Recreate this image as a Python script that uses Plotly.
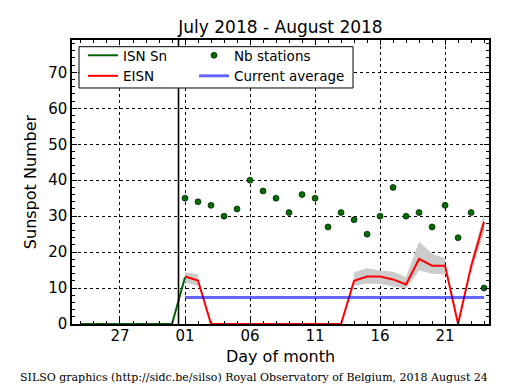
import pandas as pd
import plotly.graph_objects as go

# ---------------- data ----------------
isn_dates = pd.date_range("2018-07-24", "2018-08-01", freq="D")
isn_values = [0, 0, 0, 0, 0, 0, 0, 0, 13.0]

aug_dates = pd.date_range("2018-08-01", "2018-08-24", freq="D")
eisn_values = [13.2, 12.1, 0, 0, 0, 0, 0, 0, 0, 0, 0, 0, 0,
               12.0, 13.2, 13.2, 12.4, 11.0, 18.1, 16.2, 16.2, 0, 16.0, 28.4]
band_upper = [14.4, 13.9, None, None, None, None, None, None, None, None, None, None, None,
              14.4, 15.5, 14.9, 14.5, 13.1, 22.9, 19.6, 18.2, None, 17.5, 30.5]
band_lower = [11.6, 10.6, None, None, None, None, None, None, None, None, None, None, None,
              10.7, 11.2, 11.2, 10.4, 9.9, 14.9, 14.0, 13.8, None, 14.0, 25.5]
nb_stations = [35, 34, 33, 30, 32, 40, 37, 35, 31, 36, 35, 27, 31, 29, 25, 30,
               38, 30, 31, 27, 33, 24, 31, 10]
current_average = 7.4
month_boundary = "2018-07-31 12:00"

title_text = "July 2018 - August 2018"
footer_text = "SILSO graphics (http://sidc.be/silso) Royal Observatory of Belgium, 2018 August 24"

FONT = "DejaVu Sans"

fig = go.Figure()

# uncertainty band, one polygon per continuous run
runs, cur = [], []
for d, lo, up in zip(aug_dates, band_lower, band_upper):
    if lo is None or up is None:
        if cur:
            runs.append(cur)
        cur = []
    else:
        cur.append((d, lo, up))
if cur:
    runs.append(cur)
for run in runs:
    xs = [r[0] for r in run] + [r[0] for r in run][::-1]
    ys = [r[2] for r in run] + [r[1] for r in run][::-1]
    fig.add_trace(go.Scatter(x=xs, y=ys, fill="toself", mode="lines",
                             line=dict(width=0), fillcolor="rgb(204,204,204)",
                             showlegend=False, hoverinfo="skip"))

fig.add_trace(go.Scatter(x=isn_dates, y=isn_values, mode="lines", name="ISN Sn",
                         line=dict(color="rgb(0,100,0)", width=2),
                         legend="legend", legendrank=1))
fig.add_trace(go.Scatter(x=aug_dates, y=eisn_values, mode="lines", name="EISN",
                         line=dict(color="red", width=2),
                         legend="legend", legendrank=2))
fig.add_trace(go.Scatter(x=aug_dates, y=nb_stations, mode="markers", name="Nb stations",
                         marker=dict(color="rgb(0,110,0)", size=6,
                                     line=dict(color="black", width=0.6)),
                         legend="legend2", legendrank=1))
fig.add_trace(go.Scatter(x=[aug_dates[0], aug_dates[-1]],
                         y=[current_average, current_average],
                         mode="lines", name="Current average",
                         line=dict(color="rgba(0,0,255,0.6)", width=3),
                         legend="legend2", legendrank=2))

# month boundary
fig.add_shape(type="line", xref="x", yref="paper", x0=month_boundary, x1=month_boundary,
              y0=0, y1=1, line=dict(color="black", width=1.6))

# legend frame
fig.add_shape(type="rect", xref="paper", yref="paper", x0=0.0168, x1=0.6739,
              y0=0.831, y1=0.9764, line=dict(color="black", width=1),
              fillcolor="white", layer="above")

axis_common = dict(
    showline=True, linecolor="black", linewidth=1.5, mirror="allticks",
    ticks="inside", ticklen=5, tickwidth=1, tickcolor="black",
    showgrid=True, gridcolor="black", gridwidth=1, griddash="dot",
    zeroline=False, automargin=False,
    tickfont=dict(family=FONT, size=15, color="black"),
)

# the page body adds an 8px offset, so the figure is 8px smaller on each axis
fig.update_layout(
    width=507, height=382,
    margin=dict(l=64, r=26, t=32, b=66),
    paper_bgcolor="white", plot_bgcolor="white",
    font=dict(family=FONT, color="black"),
    title=dict(text=title_text, x=0.5, xref="paper", xanchor="center",
               y=0.951, yref="container", yanchor="middle",
               font=dict(family=FONT, size=17, color="black")),
    xaxis=dict(
        type="date",
        range=["2018-07-23 07:25", "2018-08-24 09:05"],
        tick0="2018-07-27", dtick=5 * 86400000, tickformat="%d",
        ticklabelstandoff=-3,
        minor=dict(ticks="inside", ticklen=3, dtick=86400000, tickcolor="black",
                   showgrid=False),
        title=dict(text="Day of month", font=dict(family=FONT, size=16),
                   standoff=7),
        **axis_common,
    ),
    yaxis=dict(
        range=[0, 79], dtick=10, tick0=0,
        minor=dict(ticks="inside", ticklen=3, dtick=2, tickcolor="black",
                   showgrid=False),
        title=dict(text="Sunspot Number", font=dict(family=FONT, size=16),
                   standoff=8),
        **axis_common,
    ),
    legend=dict(x=0.0264, y=1, xanchor="left", yanchor="top",
                bgcolor="rgba(0,0,0,0)", borderwidth=0,
                font=dict(family=FONT, size=13.5, color="black")),
    legend2=dict(x=0.2926, y=1, xanchor="left", yanchor="top",
                 bgcolor="rgba(0,0,0,0)", borderwidth=0,
                 font=dict(family=FONT, size=13.5, color="black")),
    annotations=[dict(text=footer_text, xref="paper", yref="paper",
                      x=0.4365, y=-0.187, xanchor="center", yanchor="middle",
                      showarrow=False,
                      font=dict(family="DejaVu Serif", size=11, color="black"))],
)

fig.write_html("out.html")
